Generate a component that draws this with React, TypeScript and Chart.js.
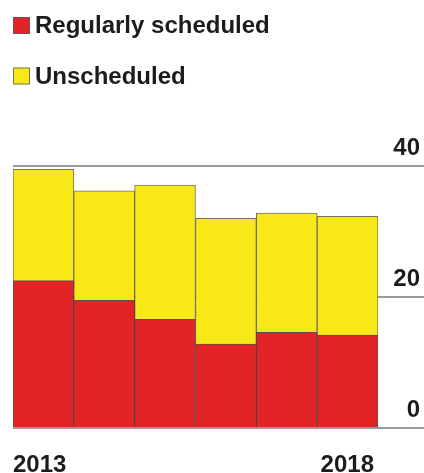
import React, { useEffect, useRef } from "react";
import { Chart, registerables } from "chart.js";

Chart.register(...registerables);

const years = ["2013", "2014", "2015", "2016", "2017", "2018"];
const regularlyScheduled = [22.5, 19.5, 16.6, 12.8, 14.6, 14.2];
const unscheduled = [17.0, 16.7, 20.5, 19.2, 18.2, 18.1];
const seriesNames = ["Regularly scheduled", "Unscheduled"];
const seriesColors = ["#e22427", "#f8e817"];
const yTicks = [0, 20, 40];

const FONT = "'Liberation Sans', Arial, sans-serif";
const INK = "#1c1c1c";

// Two-row legend in the top-left corner, taken from the dataset labels and colours.
const cornerLegend = {
  id: "cornerLegend",
  afterDraw(chart: any) {
    const { ctx } = chart;
    ctx.save();
    chart.data.datasets.forEach((ds: any, i: number) => {
      const cy = 25.5 + i * 50.5;
      ctx.fillStyle = ds.backgroundColor;
      ctx.fillRect(13, cy - 8.5, 17, 17);
      ctx.strokeStyle = "rgba(90,90,90,0.8)";
      ctx.lineWidth = 1;
      ctx.strokeRect(13.5, cy - 8, 16, 16);
      ctx.fillStyle = INK;
      ctx.font = `bold 24px ${FONT}`;
      ctx.textBaseline = "middle";
      ctx.textAlign = "left";
      ctx.fillText(ds.label, 35, cy + 1);
    });
    ctx.restore();
  },
};

// First and last year, flush with the outer edges of the first and last bar.
const edgeYearLabels = {
  id: "edgeYearLabels",
  afterDraw(chart: any) {
    const { ctx } = chart;
    const x = chart.scales.x;
    const labels = chart.data.labels as string[];
    const half = (x.getPixelForValue(1) - x.getPixelForValue(0)) / 2;
    const last = labels.length - 1;
    ctx.save();
    ctx.fillStyle = INK;
    ctx.font = `bold 24px ${FONT}`;
    ctx.textBaseline = "alphabetic";
    ctx.textAlign = "left";
    ctx.fillText(labels[0], x.getPixelForValue(0) - half, 472);
    ctx.textAlign = "right";
    ctx.fillText(labels[last], x.getPixelForValue(last) + half - 4, 472);
    ctx.restore();
  },
};

export default function App() {
  const canvasRef = useRef<HTMLCanvasElement | null>(null);

  useEffect(() => {
    if (!canvasRef.current) return;
    const chart = new Chart(canvasRef.current, {
      type: "bar",
      data: {
        labels: years,
        datasets: [
          {
            label: seriesNames[0],
            data: regularlyScheduled,
            backgroundColor: seriesColors[0],
            borderColor: "rgba(70,45,40,0.85)",
            borderWidth: 1,
            categoryPercentage: 1,
            barPercentage: 1,
          },
          {
            label: seriesNames[1],
            data: unscheduled,
            backgroundColor: seriesColors[1],
            borderColor: "rgba(95,90,70,0.85)",
            borderWidth: 1,
            categoryPercentage: 1,
            barPercentage: 1,
          },
        ],
      },
      options: {
        responsive: true,
        maintainAspectRatio: false,
        animation: false,
        layout: { padding: { top: 166, bottom: 45, left: 13, right: 4 } },
        plugins: {
          legend: { display: false },
          tooltip: { enabled: false },
        },
        scales: {
          x: {
            stacked: true,
            display: false,
          },
          y: {
            stacked: true,
            position: "right",
            min: 0,
            max: 40,
            afterFit: (scale: any) => {
              scale.width = 42;
            },
            afterBuildTicks: (scale: any) => {
              scale.ticks = yTicks.map((v) => ({ value: v }));
            },
            border: { display: false },
            grid: {
              color: "#9b9b9b",
              lineWidth: 2,
              drawTicks: true,
              tickLength: 46,
              tickColor: "#9b9b9b",
              tickWidth: 2,
            },
            ticks: {
              color: INK,
              font: { family: FONT, size: 24, weight: "bold" },
              crossAlign: "far",
              padding: 0,
              labelOffset: -18,
            },
          },
        },
      },
      plugins: [cornerLegend, edgeYearLabels],
    });
    return () => chart.destroy();
  }, []);

  return (
    <div
      style={{
        position: "fixed",
        left: 0,
        top: 0,
        width: 424,
        height: 473,
        background: "#ffffff",
      }}
    >
      <canvas ref={canvasRef} />
    </div>
  );
}
